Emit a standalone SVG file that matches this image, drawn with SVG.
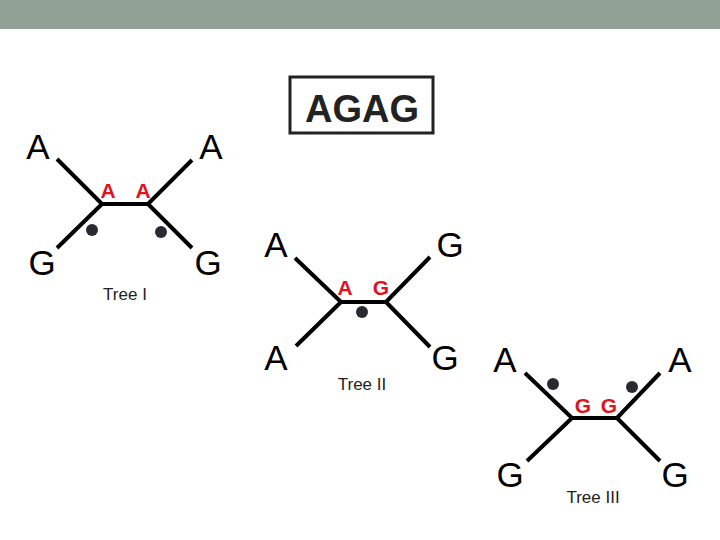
<svg xmlns="http://www.w3.org/2000/svg" width="720" height="540" viewBox="0 0 720 540">
<style>
.e{stroke:#000;stroke-width:4;fill:none;stroke-linecap:butt}
.b{font-family:"Liberation Sans",Arial,sans-serif;font-size:35px;fill:#000;text-anchor:middle}
.r{font-family:"Liberation Sans",Arial,sans-serif;font-size:21px;font-weight:bold;fill:#e0141e;text-anchor:middle}
.t{font-family:"Liberation Sans",Arial,sans-serif;font-size:17px;fill:#222;text-anchor:middle}
.d{fill:#2a2a33}
</style>
<rect x="0" y="0" width="720" height="29" fill="#91a195"/>
<g id="title">
<rect x="290" y="77" width="143" height="56" fill="#fff" stroke="#222" stroke-width="3"/>
<text x="362" y="122" font-family="Liberation Sans,Arial,sans-serif" font-size="38" font-weight="bold" fill="#222" text-anchor="middle">AGAG</text>
</g>
<g id="connectors">
<path class="e" d="M57 159L102 204H148L192 160M102 204L57 248M148 204L192 248"/>
<path class="e" d="M295 258L341 302H386L430 257M341 302L296 346M386 302L430 347"/>
<path class="e" d="M525 373L572 418H617L660 373M572 418L527 461M617 418L660 461"/>
</g>
<g id="tree1">
<text class="b" x="38" y="159">A</text>
<text class="b" x="211" y="159">A</text>
<text class="b" x="42" y="275">G</text>
<text class="b" x="208" y="275">G</text>
<text class="r" x="108" y="198">A</text>
<text class="r" x="143" y="198">A</text>
<circle class="d" cx="92" cy="230" r="6"/>
<circle class="d" cx="161" cy="232" r="6"/>
<text class="t" x="125" y="300">Tree I</text>
</g>
<g id="tree2">
<text class="b" x="276" y="257">A</text>
<text class="b" x="450" y="257">G</text>
<text class="b" x="276" y="370">A</text>
<text class="b" x="445" y="370">G</text>
<text class="r" x="345" y="295">A</text>
<text class="r" x="381" y="295">G</text>
<circle class="d" cx="362" cy="312" r="6"/>
<text class="t" x="362" y="390">Tree II</text>
</g>
<g id="tree3">
<text class="b" x="505" y="372">A</text>
<text class="b" x="680" y="372">A</text>
<text class="b" x="510" y="487">G</text>
<text class="b" x="675" y="487">G</text>
<text class="r" x="583" y="413">G</text>
<text class="r" x="609" y="413">G</text>
<circle class="d" cx="553" cy="384" r="6"/>
<circle class="d" cx="632" cy="387" r="6"/>
<text class="t" x="593" y="503">Tree III</text>
</g>
</svg>
